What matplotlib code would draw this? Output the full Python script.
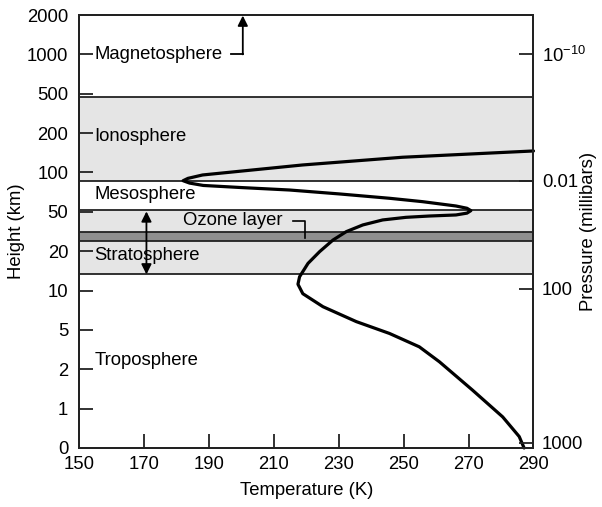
import numpy as np
import matplotlib
matplotlib.use('agg')
import matplotlib.pyplot as plt

plt.rcParams['font.family'] = ['Liberation Sans', 'DejaVu Sans']
plt.rcParams['mathtext.fontset'] = 'custom'
plt.rcParams['mathtext.rm'] = 'Liberation Sans'
plt.rcParams['mathtext.it'] = 'Liberation Sans'

# height axis ticks (km), spaced evenly on the chart
height_ticks = [0, 1, 2, 5, 10, 20, 50, 100, 200, 500, 1000, 2000]
height_labels = ['0', '1', '2', '5', '10', '20', '50', '100', '200', '500', '1000', '2000']

# pressure axis (right)
pressure_heights = [0.13, 10.4, 89.5, 1015]
pressure_labels = ['1000', '100', '0.01', '$10^{-10}$']

temp_ticks = [150, 170, 190, 210, 230, 250, 270, 290]

# temperature profile (ground -> top)
profile_temp = [287.1, 285.6, 280.5, 271.2, 261.0, 254.8, 245.6, 235.4, 225.1, 218.9,
                217.4, 217.9, 220.5, 224.1, 228.2, 232.3, 237.4, 243.5, 250.7, 257.9,
                266.1, 269.5, 270.7, 269.5, 266.1, 255.8, 245.6, 230.2, 214.8, 200.0,
                188.2, 184.0, 182.0, 183.5, 188.0, 200.0, 218.8, 249.6, 290.0]
profile_height = [0.0, 0.29, 0.79, 1.47, 2.57, 3.71, 4.73, 6.05, 7.95, 9.6,
                  11.6, 13.5, 16.9, 19.9, 28.5, 34.9, 40.0, 43.8, 45.8, 46.8,
                  47.6, 49.0, 51.5, 54.5, 57.4, 62.9, 67.2, 72.7, 77.7, 80.8,
                  83.5, 86.5, 89.5, 92.5, 96.8, 103.5, 119.0, 138.6, 154.6]

# layer boundaries (km)
iono_band = (89.5, 476)
strat_band = (14.1, 52.5)
ozone_band = (27.5, 34.4)

layer_names = ['Magnetosphere', 'Ionosphere', 'Mesosphere', 'Stratosphere', 'Troposphere']
layer_label_h = [1000, 191, 71.5, 19, 2.7]


def fwd(h):
    return np.interp(h, height_ticks, np.arange(len(height_ticks)))


def inv(p):
    return np.interp(p, np.arange(len(height_ticks)), height_ticks)


fig = plt.figure(figsize=(6.02, 5.07), dpi=100)
ax = fig.add_axes([0.1317, 0.1164, 0.7545, 0.854])
ax.set_yscale('function', functions=(fwd, inv))
ax.set_xlim(150, 290)
ax.set_ylim(0, 2000)

light = '#e5e5e5'
dark = '#8f8f8f'
edge = '#222222'
ax.axhspan(*iono_band, facecolor=light, edgecolor='none', zorder=0)
ax.axhspan(*strat_band, facecolor=light, edgecolor='none', zorder=0)
ax.axhspan(*ozone_band, facecolor=dark, edgecolor='none', zorder=0)
for h in [iono_band[0], iono_band[1], strat_band[0], strat_band[1], ozone_band[0], ozone_band[1]]:
    ax.axhline(h, color=edge, lw=1.3, zorder=1)

ax.plot(profile_temp, profile_height, color='black', lw=2.3, zorder=3,
        solid_joinstyle='round', solid_capstyle='round', clip_on=False)

fs = 13.3
for name, h in zip(layer_names, layer_label_h):
    ax.text(154.6, h, name, fontsize=fs, ha='left', va='center', zorder=4)
ax.text(182, 43, 'Ozone layer', fontsize=fs, ha='left', va='center', zorder=4)

# magnetosphere leader arrow
ax.plot([196.8, 200.4], [1000, 1000], color='black', lw=1.3, zorder=4)
ax.annotate('', xy=(200.4, 1985), xytext=(200.4, 1000),
            arrowprops=dict(arrowstyle='-|>', color='black', lw=1.3,
                            mutation_scale=15, shrinkA=0, shrinkB=0), zorder=4)

# stratosphere double arrow
ax.annotate('', xy=(170.7, 50.5), xytext=(170.7, 14.1),
            arrowprops=dict(arrowstyle='<|-|>', color='black', lw=1.3,
                            mutation_scale=15, shrinkA=0, shrinkB=0), zorder=4)

# ozone bracket
ax.plot([215.8, 219.5, 219.5], [42.8, 42.8, 29.9], color='black', lw=1.2, zorder=4)

ax.set_xticks(temp_ticks)
ax.set_xticklabels([str(t) for t in temp_ticks], fontsize=fs)
ax.set_yticks(height_ticks)
ax.set_yticklabels(height_labels, fontsize=fs)
ax.tick_params(axis='both', direction='in', length=10, width=1.3, color=edge, pad=6)
ax.tick_params(axis='y', pad=8)
for s in ax.spines.values():
    s.set_linewidth(1.4)
    s.set_color(edge)

ax2 = ax.twinx()
ax2.set_yscale('function', functions=(fwd, inv))
ax2.set_ylim(0, 2000)
ax2.set_yticks(pressure_heights)
ax2.set_yticklabels(pressure_labels, fontsize=fs)
ax2.tick_params(axis='y', direction='in', length=10, width=1.3, color=edge, pad=6)
for s in ax2.spines.values():
    s.set_linewidth(1.4)
    s.set_color(edge)

ax.set_xlabel('Temperature (K)', fontsize=fs, labelpad=6)
ax.set_ylabel('Height (km)', fontsize=fs, labelpad=1)
ax2.set_ylabel('Pressure (millibars)', fontsize=fs, labelpad=-4)

fig.savefig('out.png', dpi=100)
